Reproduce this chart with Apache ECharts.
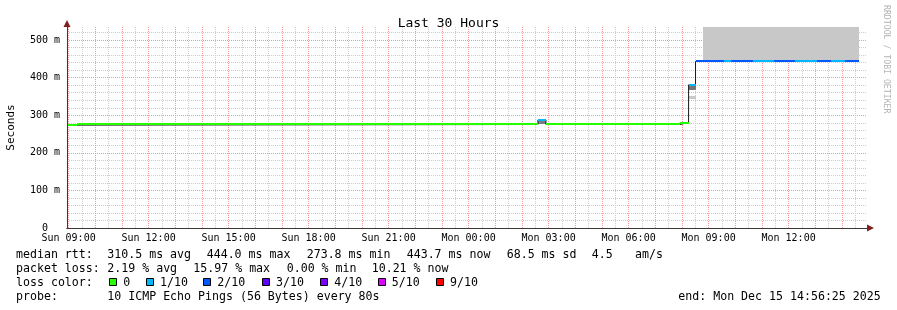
<!DOCTYPE html>
<html><head><meta charset="utf-8">
<script src="https://cdn.jsdelivr.net/npm/echarts@6/dist/echarts.min.js"></script>
<style>html,body{margin:0;padding:0;background:#fff}#c{width:897px;height:310px}</style>
</head><body><div id="c"></div>
<script>
// ---- time axis: hours since Sun 00:00 ----
const startHour = 8 + 56/60 + 25/3600;   // Sun 08:56:25
const endHour = startHour + 30;           // Mon 14:56:25
const xTickHours = [9, 12, 15, 18, 21, 24, 27, 30, 33, 36];
const xTickLabels = ['Sun 09:00','Sun 12:00','Sun 15:00','Sun 18:00','Sun 21:00','Mon 00:00','Mon 03:00','Mon 06:00','Mon 09:00','Mon 12:00'];
const yTickValues = [0, 100, 200, 300, 400, 500];
const yTickLabels = ['0', '100 m', '200 m', '300 m', '400 m', '500 m'];
const yMax = 535;

// ---- median rtt segments (ms) and loss level (x/10) ----
const segStart  = [8.940, 9.315, 26.60, 26.90, 31.93, 32.25, 32.51, 33.58, 33.84, 34.67, 35.45, 36.24, 37.07, 37.59, 38.12];
const segEnd    = [9.315, 26.60, 26.90, 31.93, 32.25, 32.51, 33.58, 33.84, 34.67, 35.45, 36.24, 37.07, 37.59, 38.12, 38.64];
const segMedian = [273.8, 275.5, 287.5, 275.5, 280.5, 381.0, 443.5, 443.5, 443.5, 443.5, 443.5, 443.5, 443.5, 443.5, 443.7];
const segLoss   = [0,     0,     1,     0,     0,     1,     2,     1,     2,     1,     2,     1,     2,     1,     2];

// ---- smoke (ping spread) ----
const smokeStart = [26.60, 32.25, 32.25, 32.79];
const smokeEnd   = [26.90, 32.51, 32.51, 38.64];
const smokeLow   = [275.5, 367.5, 343.5, 446.0];
const smokeHigh  = [285.0, 378.5, 350.5, 535.0];
const smokeGray  = [125,   118,   200,   200];

// ---- legend stats ----
const rttStats  = [310.5, 444.0, 273.8, 443.7];   // avg max min now
const rttSd = 68.5, rttAmS = 4.5;
const lossStats = [2.19, 15.97, 0.00, 10.21];     // avg max min now
const lossLevels = [0, 1, 2, 3, 4, 5, 9];
const lossColor = {0:'#26ff00',1:'#00b8ff',2:'#0059ff',3:'#5e00ff',4:'#7e00ff',5:'#dd00ff',9:'#ff0000'};

const MONO = '"DejaVu Sans Mono", monospace';
const RED = 'rgb(246,150,150)';
const GRAY = 'rgb(204,204,204)';
const AXIS = '#3a3a3a';
const ARROW = '#801f1f';

// vertical grid every half hour (major each full hour)
const halfHours = [];
for (let h = Math.ceil(startHour * 2) / 2; h <= endHour; h += 0.5) halfHours.push(h);

// black median path
const pathPoints = [];
segStart.forEach((s, i) => { pathPoints.push([s, segMedian[i]]); pathPoints.push([segEnd[i], segMedian[i]]); });

// legend graphics
const F = '11.6px ' + MONO;
function txt(x, y, t) {
  return {type: 'text', x: x, y: y, silent: true, style: {text: t, font: F, fill: '#000', align: 'left', verticalAlign: 'middle'}};
}
const rowY = [254.5, 268.5, 282.5, 296.5];
const graphics = [
  txt(16, rowY[0], 'median rtt:'),
  txt(107.3, rowY[0], rttStats[0].toFixed(1) + ' ms avg'),
  txt(206.7, rowY[0], rttStats[1].toFixed(1) + ' ms max'),
  txt(306.7, rowY[0], rttStats[2].toFixed(1) + ' ms min'),
  txt(406.7, rowY[0], rttStats[3].toFixed(1) + ' ms now'),
  txt(506.7, rowY[0], rttSd.toFixed(1) + ' ms sd'),
  txt(591.7, rowY[0], rttAmS.toFixed(1)),
  txt(635, rowY[0], 'am/s'),
  txt(16, rowY[1], 'packet loss:'),
  txt(107.3, rowY[1], lossStats[0].toFixed(2) + ' % avg'),
  txt(193.3, rowY[1], lossStats[1].toFixed(2) + ' % max'),
  txt(286.7, rowY[1], lossStats[2].toFixed(2) + ' % min'),
  txt(371.7, rowY[1], lossStats[3].toFixed(2) + ' % now'),
  txt(16, rowY[2], 'loss color:'),
  txt(16, rowY[3], 'probe:'),
  txt(107.3, rowY[3], '10 ICMP Echo Pings (56 Bytes) every 80s'),
  txt(678.3, rowY[3], 'end: Mon Dec 15 14:56:25 2025'),
  {type: 'text', x: 886, y: 5, rotation: -Math.PI / 2, silent: true,
   style: {text: 'RRDTOOL / TOBI OETIKER', font: '8.2px ' + MONO, fill: '#b4b4b4', align: 'left', verticalAlign: 'middle'}}
];
const swatchX = [109, 146, 203.3, 261.7, 320, 377.7, 436];
const swatchTextX = [123.3, 160, 217.3, 276, 334.3, 391.7, 450];
lossLevels.forEach((l, i) => {
  graphics.push({type: 'rect', silent: true, shape: {x: Math.round(swatchX[i]) + 0.5, y: 278.5, width: 7, height: 7},
    style: {fill: lossColor[l], stroke: '#000', lineWidth: 1}});
  graphics.push(txt(swatchTextX[i], rowY[2], l === 0 ? '0' : l + '/10'));
});

const hidden = {axisLine: {show: false}, axisTick: {show: false}, axisLabel: {show: false}};

const chart = echarts.init(document.getElementById('c'), null, {renderer: 'canvas', width: 897, height: 310});
chart.setOption({
  animation: false,
  backgroundColor: '#ffffff',
  title: {text: 'Last 30 Hours', left: 'center', top: 12,
    textStyle: {fontFamily: MONO, fontSize: 13, fontWeight: 'normal', color: '#000'}},
  grid: {left: 67, right: 30, top: 27, bottom: 82, containLabel: false, outerBoundsMode: 'none'},
  xAxis: [{
    type: 'value', min: startHour, max: endHour, position: 'bottom', z: 6,
    axisLine: {show: true, onZero: false, lineStyle: {color: AXIS, width: 1}},
    axisTick: {show: false},
    axisLabel: {customValues: xTickHours, fontFamily: MONO, fontSize: 10, color: '#000', margin: 5,
      formatter: v => { const i = xTickHours.indexOf(Math.round(v)); return i >= 0 ? xTickLabels[i] : ''; }},
    splitLine: {show: false}
  }, {
    type: 'value', min: startHour, max: endHour, position: 'bottom', z: 5,
    axisLine: {show: true, onZero: false, symbol: ['none', 'triangle'], symbolSize: [7, 7], symbolOffset: [0, 3.5],
      lineStyle: {color: ARROW, width: 1}},
    axisTick: {show: false}, axisLabel: {show: false}, splitLine: {show: false}
  }, {
    type: 'value', min: startHour, max: endHour, position: 'bottom', z: 0,
    axisLine: {show: false}, axisLabel: {show: false},
    axisTick: {show: false, customValues: halfHours},
    splitLine: {show: true, showMinLine: true, showMaxLine: true,
      lineStyle: {color: [RED, GRAY], width: 1, type: [1, 1]}}
  }],
  yAxis: [{
    type: 'value', min: 0, max: yMax, interval: 100, position: 'left', z: 6,
    axisLine: {show: true, onZero: false, lineStyle: {color: AXIS, width: 1}},
    axisTick: {show: false},
    axisLabel: {fontFamily: MONO, fontSize: 10, color: '#000', align: 'center', margin: 22,
      formatter: v => { const i = yTickValues.indexOf(v); return i >= 0 ? yTickLabels[i] : ''; }},
    splitLine: {show: false},
    name: 'Seconds', nameLocation: 'middle', nameGap: 50,
    nameTextStyle: {fontFamily: MONO, fontSize: 11, color: '#000'}
  }, {
    type: 'value', min: 0, max: yMax, interval: 100, position: 'left', z: 5,
    axisLine: {show: true, onZero: false, symbol: ['none', 'triangle'], symbolSize: [7, 7], symbolOffset: [0, 3.5],
      lineStyle: {color: ARROW, width: 1}},
    axisTick: {show: false}, axisLabel: {show: false}, splitLine: {show: false}
  }, {
    type: 'value', min: 0, max: yMax, interval: 20, position: 'left', z: 0,
    axisLine: {show: false}, axisTick: {show: false}, axisLabel: {show: false},
    splitLine: {show: true, showMinLine: true, showMaxLine: false,
      lineStyle: {color: [RED, GRAY, GRAY, GRAY, GRAY], width: 1, type: [1, 1]}}
  }],
  series: [{
    type: 'custom', z: 2, silent: true, clip: true,
    data: smokeStart.map((s, i) => [s, smokeEnd[i], smokeLow[i], smokeHigh[i], smokeGray[i]]),
    encode: {x: [0, 1], y: [2, 3]},
    renderItem: (params, api) => {
      const a = api.coord([api.value(0), api.value(3)]);
      const b = api.coord([api.value(1), api.value(2)]);
      const g = api.value(4);
      return {type: 'rect', shape: {x: Math.round(a[0]), y: Math.round(a[1]), width: Math.round(b[0]) - Math.round(a[0]), height: Math.round(b[1]) - Math.round(a[1])},
        style: {fill: 'rgb(' + g + ',' + g + ',' + g + ')'}};
    }
  }, {
    type: 'line', z: 3, silent: true, data: pathPoints, symbol: 'none', showSymbol: false,
    lineStyle: {color: '#1a1a1a', width: 1}
  }, {
    type: 'custom', z: 4, silent: true,
    data: segStart.map((s, i) => [s, segEnd[i], segMedian[i], segLoss[i]]),
    encode: {x: [0, 1], y: 2},
    renderItem: (params, api) => {
      const a = api.coord([api.value(0), api.value(2)]);
      const b = api.coord([api.value(1), api.value(2)]);
      const x0 = Math.round(a[0]), x1 = Math.round(b[0]);
      return {type: 'rect', shape: {x: x0, y: Math.round(a[1]) - 1, width: x1 - x0, height: 2},
        style: {fill: lossColor[api.value(3)]}};
    }
  }],
  graphic: graphics
});
</script>
</body></html>
